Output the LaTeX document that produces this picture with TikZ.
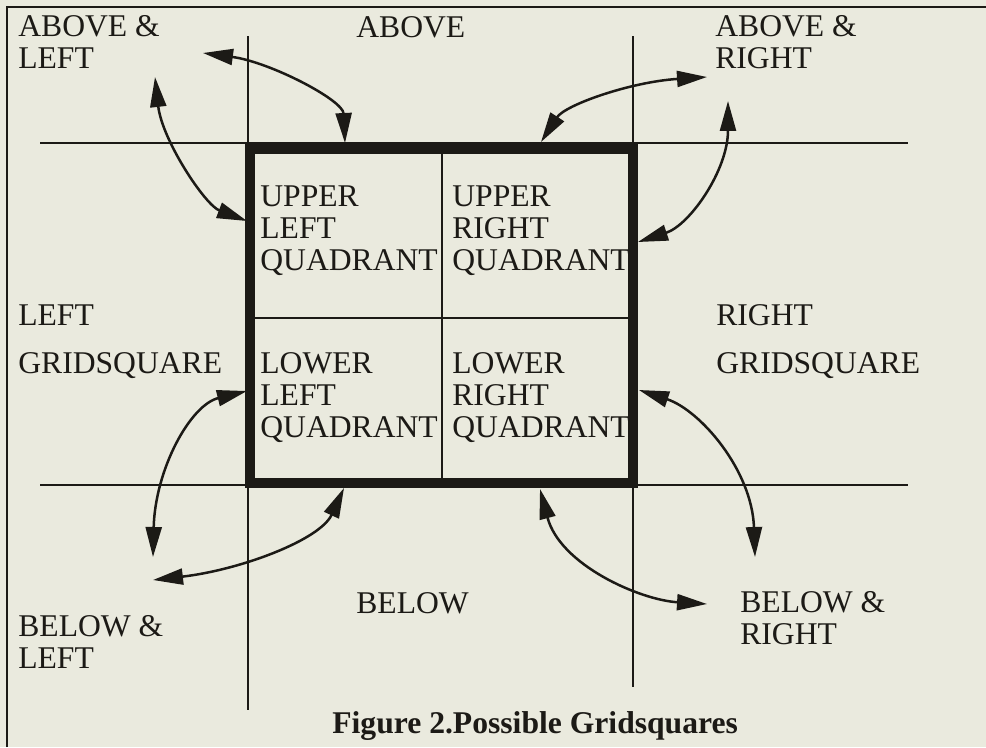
\documentclass[tikz,border=0pt]{standalone}
\usepackage{fontspec}
\setmainfont{Liberation Serif}
\usetikzlibrary{arrows.meta}
\definecolor{paper}{RGB}{234,234,222}
\definecolor{ink}{RGB}{28,26,22}
\tikzset{
  lbl/.style={anchor=base west, inner sep=0pt, align=left, text=ink,
              font=\fontsize{18}{18}\selectfont},
  thinline/.style={draw=ink, line width=0.04cm},
  thickbox/.style={draw=ink, line width=0.2cm},
  dblarrow/.style={draw=ink, line width=0.05cm,
              {Triangle[length=0.6cm,width=0.32cm]}-{Triangle[length=0.6cm,width=0.32cm]}}
}
\begin{document}
\begin{tikzpicture}[x=0.02cm, y=-0.02cm]
\fill[paper] (0,0) rectangle (986,747);
\useasboundingbox (0,0) rectangle (986,747);
% frame
\draw[thinline] (7,747) -- (7,7) -- (986,7);
% grid lines
\draw[thinline] (248,36) -- (248,710);
\draw[thinline] (633,36) -- (633,687);
\draw[thinline] (40,143) -- (908,143);
\draw[thinline] (40,485) -- (908,485);
% quadrant dividers
\draw[thinline] (442,149) -- (442,483);
\draw[thinline] (250,318) -- (633,318);
% thick box
\draw[thickbox] (250,149) rectangle (633,483);
% labels (anchor = baseline of last line)
\node[lbl] (al) at (18,68) {ABOVE \&\\LEFT};
\node[lbl] (ab) at (356,37) {ABOVE};
\node[lbl] (ar) at (715,68) {ABOVE \&\\RIGHT};
\node[lbl] (ul) at (260,270) {UPPER\\LEFT\\QUADRANT};
\node[lbl] (ur) at (452,270) {UPPER\\RIGHT\\QUADRANT};
\node[lbl] (ll) at (260,437) {LOWER\\LEFT\\QUADRANT};
\node[lbl] (lr) at (452,437) {LOWER\\RIGHT\\QUADRANT};
\node[lbl] (lg) at (18,373) {LEFT\\[9.2pt]GRIDSQUARE};
\node[lbl] (rg) at (716,373) {RIGHT\\[9.2pt]GRIDSQUARE};
\node[lbl] (be) at (356,613) {BELOW};
\node[lbl] (bl) at (18,668) {BELOW \&\\LEFT};
\node[lbl] (br) at (740,644) {BELOW \&\\RIGHT};
\node[lbl, font=\fontsize{18}{18}\selectfont\bfseries] (cap) at (332,733) {Figure 2.Possible Gridsquares};
% arrow end points
\coordinate (a1s) at (203,53);  \coordinate (a1e) at (345,143);
\coordinate (a2s) at (155,77);  \coordinate (a2e) at (247,221);
\coordinate (a3s) at (707,77);  \coordinate (a3e) at (541,142);
\coordinate (a4s) at (728,101); \coordinate (a4e) at (638,242);
\coordinate (a5s) at (247,391); \coordinate (a5e) at (153,557);
\coordinate (a6s) at (344,488); \coordinate (a6e) at (153,580);
\coordinate (a7s) at (639,390); \coordinate (a7e) at (755,557);
\coordinate (a8s) at (540,489); \coordinate (a8e) at (707,604);
% arrows
\draw[dblarrow] (a1s) .. controls (270,62) and (343,100) .. (a1e);
\draw[dblarrow] (a2s) .. controls (162,140) and (205,205) .. (a2e);
\draw[dblarrow] (a3s) .. controls (630,82) and (565,105) .. (a3e);
\draw[dblarrow] (a4s) .. controls (728,170) and (690,225) .. (a4e);
\draw[dblarrow] (a5s) .. controls (190,405) and (155,470) .. (a5e);
\draw[dblarrow] (a6s) .. controls (320,540) and (240,570) .. (a6e);
\draw[dblarrow] (a7s) .. controls (700,410) and (752,470) .. (a7e);
\draw[dblarrow] (a8s) .. controls (560,565) and (640,600) .. (a8e);
\end{tikzpicture}
\end{document}
